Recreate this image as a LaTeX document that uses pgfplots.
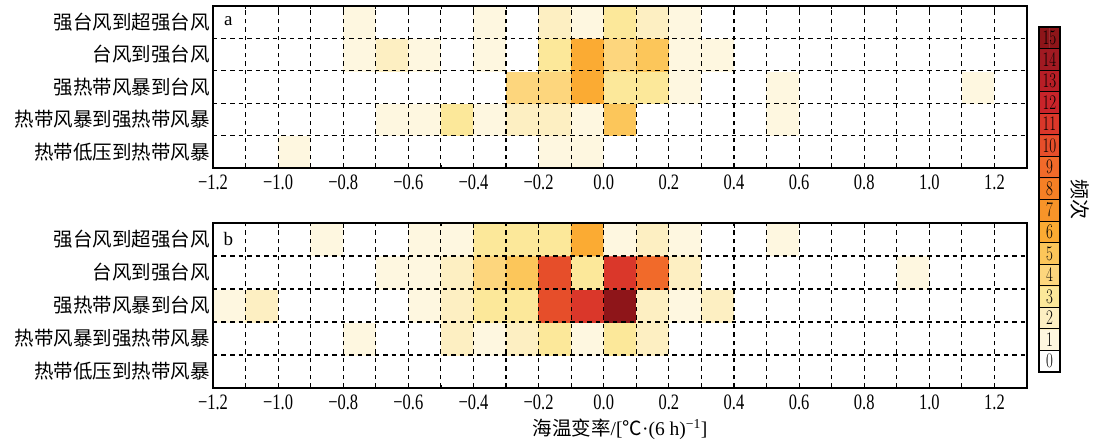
\documentclass[border=0pt]{standalone}
\usepackage{fontspec}
\setmainfont{Liberation Serif}
\newfontfamily\cjk{Noto Sans CJK SC}
\usepackage{pgfplots}
\pgfplotsset{compat=1.18}

\pgfplotsset{
  freqmap/.style={
    colormap={freq}{
      rgb255=(255,255,255) rgb255=(254,247,224) rgb255=(253,239,194) rgb255=(252,232,154)
      rgb255=(253,214,125) rgb255=(252,198,90) rgb255=(251,171,51) rgb255=(247,148,41)
      rgb255=(245,128,37) rgb255=(241,106,42) rgb255=(230,78,42) rgb255=(218,55,42)
      rgb255=(201,36,42) rgb255=(184,30,38) rgb255=(161,26,34) rgb255=(142,21,25)},
    colormap access=direct},
  heat/.style={
    scale only axis, width=814pt, height=#1,
    freqmap,
    xmin=-1.2, xmax=1.3, ymin=0.5, ymax=5.5,
    xtick={-1.2,-1.0,-0.8,-0.6,-0.4,-0.2,0,0.2,0.4,0.6,0.8,1.0,1.2},
    xticklabels={−1.2,−1.0,−0.8,−0.6,−0.4,−0.2,0.0,0.2,0.4,0.6,0.8,1.0,1.2},
    minor x tick num=1,
    xmajorgrids, xminorgrids,
    major grid style={black, line width=1.1pt, dash pattern=on 4.5pt off 4pt},
    minor grid style={black, line width=1.1pt, dash pattern=on 4.5pt off 4pt},
    ytick={1,2,3,4,5},
    yticklabels={热带低压到热带风暴,热带风暴到强热带风暴,强热带风暴到台风,台风到强台风,强台风到超强台风},
    yticklabel style={font=\cjk\fontsize{19.5}{20}\selectfont, inner sep=1pt, xshift=-2pt},
    ytick style={draw=none},
    extra y ticks={1.5,2.5,3.5,4.5},
    extra y tick labels={},
    extra y tick style={ymajorgrids=true, ytick style={draw=none}},
    xticklabel style={font=\fontsize{22}{22}\selectfont, xscale=0.75, yshift=-3pt},
    tick align=inside,
    major tick length=5pt, minor tick length=3pt,
    tick style={black, line width=0.8pt},
    axis line style={black, line width=1.4pt},
    axis on top,
  },
}

\begin{document}
\begin{tikzpicture}[x=1pt,y=1pt]
\useasboundingbox (0,0) rectangle (1096,444);

% ---------- panel a ----------
\begin{axis}[heat=162pt, at={(213pt,276pt)}, anchor=south west]
\addplot[matrix plot*, point meta=explicit, mesh/cols=25] table[x=x, y=y, meta=c, row sep=\\] {
x y c\\
-1.15 1 0\\ -1.05 1 0\\ -0.95 1 1\\ -0.85 1 0\\ -0.75 1 0\\ -0.65 1 0\\ -0.55 1 0\\ -0.45 1 0\\ -0.35 1 0\\ -0.25 1 0\\ -0.15 1 1\\ -0.05 1 1\\ 0.05 1 0\\ 0.15 1 0\\ 0.25 1 0\\ 0.35 1 0\\ 0.45 1 0\\ 0.55 1 0\\ 0.65 1 0\\ 0.75 1 0\\ 0.85 1 0\\ 0.95 1 0\\ 1.05 1 0\\ 1.15 1 0\\ 1.25 1 0\\
-1.15 2 0\\ -1.05 2 0\\ -0.95 2 0\\ -0.85 2 0\\ -0.75 2 0\\ -0.65 2 1\\ -0.55 2 1\\ -0.45 2 3\\ -0.35 2 1\\ -0.25 2 2\\ -0.15 2 2\\ -0.05 2 1\\ 0.05 2 5\\ 0.15 2 0\\ 0.25 2 0\\ 0.35 2 0\\ 0.45 2 0\\ 0.55 2 1\\ 0.65 2 0\\ 0.75 2 0\\ 0.85 2 0\\ 0.95 2 0\\ 1.05 2 0\\ 1.15 2 0\\ 1.25 2 0\\
-1.15 3 0\\ -1.05 3 0\\ -0.95 3 0\\ -0.85 3 0\\ -0.75 3 0\\ -0.65 3 0\\ -0.55 3 0\\ -0.45 3 0\\ -0.35 3 0\\ -0.25 3 4\\ -0.15 3 4\\ -0.05 3 6\\ 0.05 3 3\\ 0.15 3 3\\ 0.25 3 1\\ 0.35 3 0\\ 0.45 3 0\\ 0.55 3 1\\ 0.65 3 0\\ 0.75 3 0\\ 0.85 3 0\\ 0.95 3 0\\ 1.05 3 0\\ 1.15 3 1\\ 1.25 3 0\\
-1.15 4 0\\ -1.05 4 0\\ -0.95 4 0\\ -0.85 4 0\\ -0.75 4 1\\ -0.65 4 2\\ -0.55 4 1\\ -0.45 4 0\\ -0.35 4 1\\ -0.25 4 0\\ -0.15 4 3\\ -0.05 4 6\\ 0.05 4 4\\ 0.15 4 5\\ 0.25 4 1\\ 0.35 4 1\\ 0.45 4 0\\ 0.55 4 0\\ 0.65 4 0\\ 0.75 4 0\\ 0.85 4 0\\ 0.95 4 0\\ 1.05 4 0\\ 1.15 4 0\\ 1.25 4 0\\
-1.15 5 0\\ -1.05 5 0\\ -0.95 5 0\\ -0.85 5 0\\ -0.75 5 1\\ -0.65 5 0\\ -0.55 5 0\\ -0.45 5 0\\ -0.35 5 1\\ -0.25 5 0\\ -0.15 5 2\\ -0.05 5 1\\ 0.05 5 3\\ 0.15 5 2\\ 0.25 5 1\\ 0.35 5 0\\ 0.45 5 0\\ 0.55 5 0\\ 0.65 5 0\\ 0.75 5 0\\ 0.85 5 0\\ 0.95 5 0\\ 1.05 5 0\\ 1.15 5 0\\ 1.25 5 0\\
};
\node[font=\fontsize{19}{19}\selectfont] at (rel axis cs:0.019,0.905) {a};
\end{axis}

% ---------- panel b ----------
\begin{axis}[heat=165pt, at={(213pt,56pt)}, anchor=south west,
  xlabel={{\cjk 海温变率}/[{\cjk ℃}·(6 h)\textsuperscript{−1}]},
  xlabel style={font=\fontsize{19.5}{20}\selectfont, yshift=-3pt}]
\addplot[matrix plot*, point meta=explicit, mesh/cols=25] table[x=x, y=y, meta=c, row sep=\\] {
x y c\\
-1.15 1 0\\ -1.05 1 0\\ -0.95 1 0\\ -0.85 1 0\\ -0.75 1 0\\ -0.65 1 0\\ -0.55 1 0\\ -0.45 1 0\\ -0.35 1 0\\ -0.25 1 0\\ -0.15 1 0\\ -0.05 1 0\\ 0.05 1 0\\ 0.15 1 0\\ 0.25 1 0\\ 0.35 1 0\\ 0.45 1 0\\ 0.55 1 0\\ 0.65 1 0\\ 0.75 1 0\\ 0.85 1 0\\ 0.95 1 0\\ 1.05 1 0\\ 1.15 1 0\\ 1.25 1 0\\
-1.15 2 0\\ -1.05 2 0\\ -0.95 2 0\\ -0.85 2 0\\ -0.75 2 1\\ -0.65 2 0\\ -0.55 2 0\\ -0.45 2 2\\ -0.35 2 1\\ -0.25 2 2\\ -0.15 2 3\\ -0.05 2 1\\ 0.05 2 3\\ 0.15 2 2\\ 0.25 2 0\\ 0.35 2 0\\ 0.45 2 0\\ 0.55 2 0\\ 0.65 2 0\\ 0.75 2 0\\ 0.85 2 0\\ 0.95 2 0\\ 1.05 2 0\\ 1.15 2 0\\ 1.25 2 0\\
-1.15 3 1\\ -1.05 3 2\\ -0.95 3 0\\ -0.85 3 0\\ -0.75 3 0\\ -0.65 3 0\\ -0.55 3 1\\ -0.45 3 2\\ -0.35 3 3\\ -0.25 3 3\\ -0.15 3 10\\ -0.05 3 11\\ 0.05 3 15\\ 0.15 3 2\\ 0.25 3 1\\ 0.35 3 2\\ 0.45 3 0\\ 0.55 3 0\\ 0.65 3 0\\ 0.75 3 0\\ 0.85 3 0\\ 0.95 3 0\\ 1.05 3 0\\ 1.15 3 0\\ 1.25 3 0\\
-1.15 4 0\\ -1.05 4 0\\ -0.95 4 0\\ -0.85 4 0\\ -0.75 4 0\\ -0.65 4 1\\ -0.55 4 1\\ -0.45 4 2\\ -0.35 4 4\\ -0.25 4 5\\ -0.15 4 10\\ -0.05 4 3\\ 0.05 4 11\\ 0.15 4 9\\ 0.25 4 2\\ 0.35 4 0\\ 0.45 4 0\\ 0.55 4 0\\ 0.65 4 0\\ 0.75 4 0\\ 0.85 4 0\\ 0.95 4 1\\ 1.05 4 0\\ 1.15 4 0\\ 1.25 4 0\\
-1.15 5 0\\ -1.05 5 0\\ -0.95 5 0\\ -0.85 5 1\\ -0.75 5 0\\ -0.65 5 0\\ -0.55 5 1\\ -0.45 5 1\\ -0.35 5 3\\ -0.25 5 3\\ -0.15 5 3\\ -0.05 5 6\\ 0.05 5 1\\ 0.15 5 2\\ 0.25 5 1\\ 0.35 5 0\\ 0.45 5 0\\ 0.55 5 1\\ 0.65 5 0\\ 0.75 5 0\\ 0.85 5 0\\ 0.95 5 0\\ 1.05 5 0\\ 1.15 5 0\\ 1.25 5 0\\
};
\node[font=\fontsize{19}{19}\selectfont] at (rel axis cs:0.019,0.905) {b};
\end{axis}

% ---------- colour bar ----------
\begin{axis}[at={(1039pt,72pt)}, anchor=south west, scale only axis,
  width=21pt, height=345pt, freqmap,
  xmin=0, xmax=1, ymin=-0.5, ymax=15.5,
  xtick=\empty,
  ytick={0,1,2,3,4,5,6,7,8,9,10,11,12,13,14,15},
  yticklabel style={anchor=center, xshift=10.5pt, inner sep=0pt, font=\fontsize{22}{22}\selectfont, xscale=0.72},
  ytick style={draw=none},
  extra y ticks={0.5,1.5,2.5,3.5,4.5,5.5,6.5,7.5,8.5,9.5,10.5,11.5,12.5,13.5,14.5},
  extra y tick labels={},
  extra y tick style={ymajorgrids=true, major grid style={black, solid, line width=1pt}},
  axis line style={black, line width=1.1pt},
  axis on top]
\addplot[matrix plot*, point meta=explicit, mesh/cols=2] table[x=x, y=y, meta=c, row sep=\\] {
x y c\\
0.25 0 0\\ 0.75 0 0\\ 0.25 1 1\\ 0.75 1 1\\ 0.25 2 2\\ 0.75 2 2\\ 0.25 3 3\\ 0.75 3 3\\
0.25 4 4\\ 0.75 4 4\\ 0.25 5 5\\ 0.75 5 5\\ 0.25 6 6\\ 0.75 6 6\\ 0.25 7 7\\ 0.75 7 7\\
0.25 8 8\\ 0.75 8 8\\ 0.25 9 9\\ 0.75 9 9\\ 0.25 10 10\\ 0.75 10 10\\ 0.25 11 11\\ 0.75 11 11\\
0.25 12 12\\ 0.75 12 12\\ 0.25 13 13\\ 0.75 13 13\\ 0.25 14 14\\ 0.75 14 14\\ 0.25 15 15\\ 0.75 15 15\\
};
\end{axis}

\node[rotate=-90, font=\cjk\fontsize{20}{20}\selectfont] at (1080pt,244pt) {频次};
\end{tikzpicture}
\end{document}
